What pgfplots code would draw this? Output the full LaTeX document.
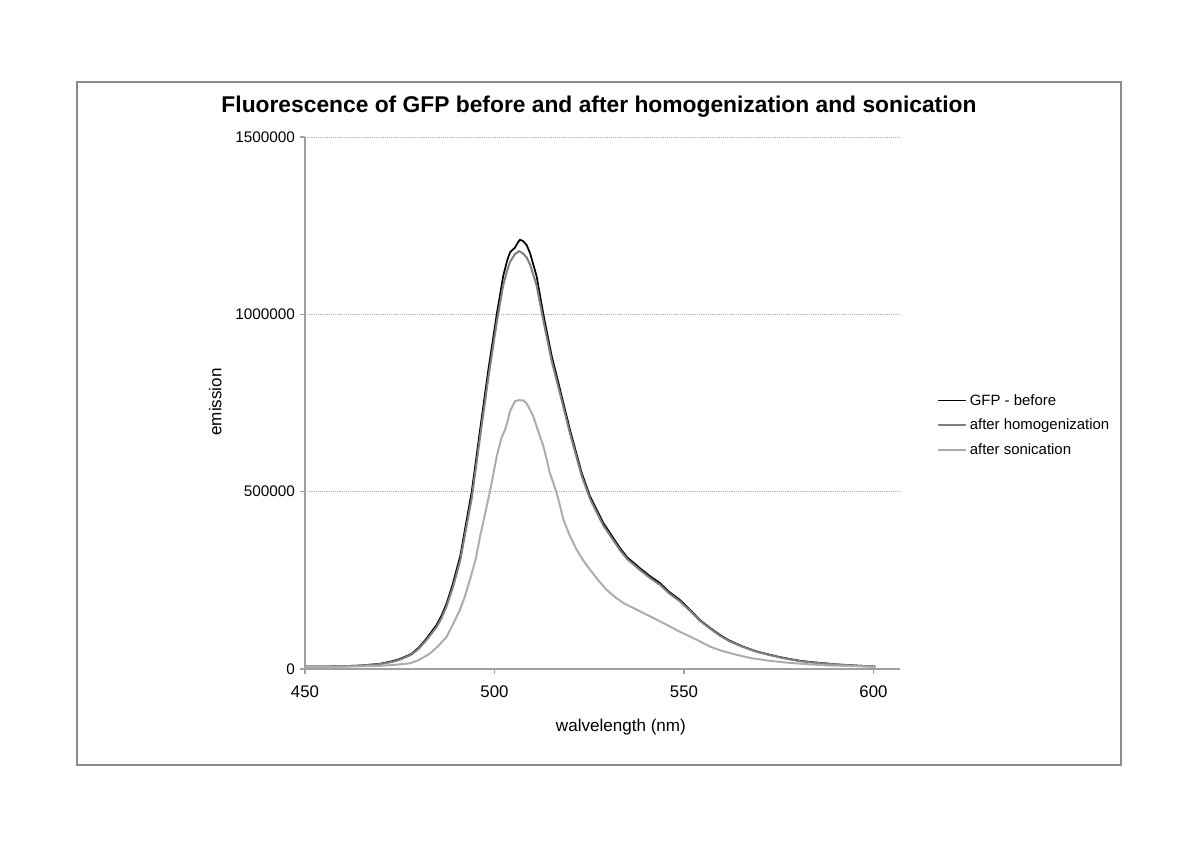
\documentclass[border=0pt]{standalone}
\usepackage{fontspec}
\setmainfont{Liberation Sans}
\usepackage{pgfplots}
\usepackage{pgfplotstable}
\pgfplotsset{compat=1.18}

\definecolor{homog}{HTML}{7F7F7F}
\definecolor{sonic}{HTML}{ADADAD}
\definecolor{framegray}{HTML}{8C8C8C}
\definecolor{axisgray}{HTML}{A0A0A0}

% wavelength (nm) / emission
\pgfplotstableread{
wl value
450 7000
455 7000
460 8000
465 10000
470 15000
473 22000
475 28000
478 42000
480 60000
482 85000
484.7 124000
486 150000
487.4 186000
489 240000
490 280000
491 320000
492.2 393000
494 500000
496.2 675000
498.4 845000
500.6 1000000
502.3 1108000
503.3 1150000
504.1 1175000
505.4 1188000
506.2 1203000
506.7 1210000
507.5 1207000
508.5 1195000
509.4 1172000
511.1 1108000
512.9 1000000
515.1 882000
517.3 788000
519.9 675000
523 553000
525.2 487000
528.7 412000
533.1 341000
535 315000
538.4 284000
541 262000
543.7 242000
546 218000
548.9 195000
551.5 168000
554.2 138000
557 115000
559.5 96000
562 80000
565.6 63000
569 50000
572.7 40000
576 32000
580.6 23000
585 18000
590.3 13000
595 10000
600.5 7000
}\before

\pgfplotstableread{
wl value
450 6000
455 6500
460 7500
465 9500
470 14000
473 20000
475 26000
478 40000
480 57000
482 81000
484.7 118000
486 143000
487.4 178000
489 230000
490 268000
491 308000
492.2 378000
494 482000
496.2 655000
498.4 823000
500.6 978000
502.3 1082000
503.3 1122000
504.1 1148000
505.4 1170000
506.5 1178000
507.5 1172000
508.5 1160000
509.4 1140000
511.1 1082000
512.9 982000
515.1 868000
517.3 776000
519.9 665000
523 545000
525.2 480000
528.7 405000
533.1 335000
535 310000
538.4 279000
541 257000
543.7 237000
546 214000
548.9 191000
551.5 165000
554.2 136000
557 113000
559.5 94000
562 78000
565.6 62000
569 49000
572.7 39000
576 31000
580.6 22000
585 17000
590.3 12500
595 9500
600.5 6500
}\homogen

\pgfplotstableread{
wl value
450 6000
455 6000
460 6500
465 7500
470 9000
474 12000
477.7 16000
480 25000
483 44000
485 63000
487.4 91000
489 125000
490.9 167000
492.2 205000
493.5 251000
495 308000
496.2 374000
497.5 437000
498.8 500000
500.6 600000
501.8 650000
502.8 675000
503.5 700000
504.1 727000
505.4 755000
506.5 758000
507.6 757000
508.4 750000
509.2 735000
510.2 713000
511.5 672000
512.9 628000
513.8 590000
514.6 553000
515.5 525000
516.4 496000
517.3 460000
518.2 421000
519.9 375000
521.7 336000
523.5 305000
525.2 280000
527.4 250000
529.6 223000
531.8 203000
534 186000
537 170000
540.2 153000
543 138000
546.3 120000
548.5 107000
550.7 96000
553.8 80000
556.9 63000
560 51000
563.9 40000
568 30000
572.7 23000
578 17000
583.2 13000
588 10000
592 9000
596 7500
600.5 6000
}\sonic

\begin{document}
\begin{tikzpicture}
\begin{scope}[x=0.75pt, y=0.75pt]
  \path[use as bounding box, fill=white] (0,0) rectangle (1200,848);
  \draw[framegray, line width=1.1pt] (77,83) rectangle (1121,766);
  \node[font=\bfseries\fontsize{17.1}{19}\selectfont] at (599,741)
    {Fluorescence of GFP before and after homogenization and sonication};
\end{scope}
\begin{axis}[
    at={(228.75pt,134.25pt)}, anchor=south west,
    scale only axis, width=446.25pt, height=399pt,
    xmin=450, xmax=607, ymin=0, ymax=1500000,
    enlargelimits=false,
    axis x line=bottom, axis y line=left,
    axis line style={-, axisgray, line width=0.9pt},
    xtick={450,500,550,600},
    ytick={0,500000,1000000,1500000},
    tick align=outside, major tick length=4pt,
    tick style={axisgray, line width=0.8pt},
    scaled y ticks=false,
    /pgf/number format/.cd, fixed, 1000 sep={}, assume math mode=true, /pgfplots/.cd,
    yticklabel style={font=\fontsize{11.5}{13}\selectfont, black},
    xticklabel style={font=\fontsize{12.6}{14}\selectfont, black, yshift=-5pt},
    ymajorgrids=true,
    grid style={densely dotted, gray!60, line width=0.6pt},
    xlabel={walvelength (nm)},
    ylabel={emission},
    label style={font=\fontsize{12.8}{14}\selectfont},
    x label style={at={(axis description cs:0.531,-0.109)}, anchor=center},
    y label style={at={(axis description cs:-0.151,0.502)}, anchor=center, rotate=0},
    legend style={at={(1.062,0.522)}, anchor=north west, draw=none, fill=none,
      font=\fontsize{11.2}{13}\selectfont, row sep=5pt, inner sep=0pt},
    legend cell align=left,
    legend image code/.code={\draw[#1] (0pt,0pt) -- (21pt,0pt);},
  ]
  \addplot[black, line width=1.3pt] table[x=wl, y=value] {\before};
  \addlegendentry{GFP - before}
  \addplot[homog, line width=1.5pt] table[x=wl, y=value] {\homogen};
  \addlegendentry{after homogenization}
  \addplot[sonic, line width=1.5pt] table[x=wl, y=value] {\sonic};
  \addlegendentry{after sonication}
\end{axis}
\end{tikzpicture}
\end{document}
